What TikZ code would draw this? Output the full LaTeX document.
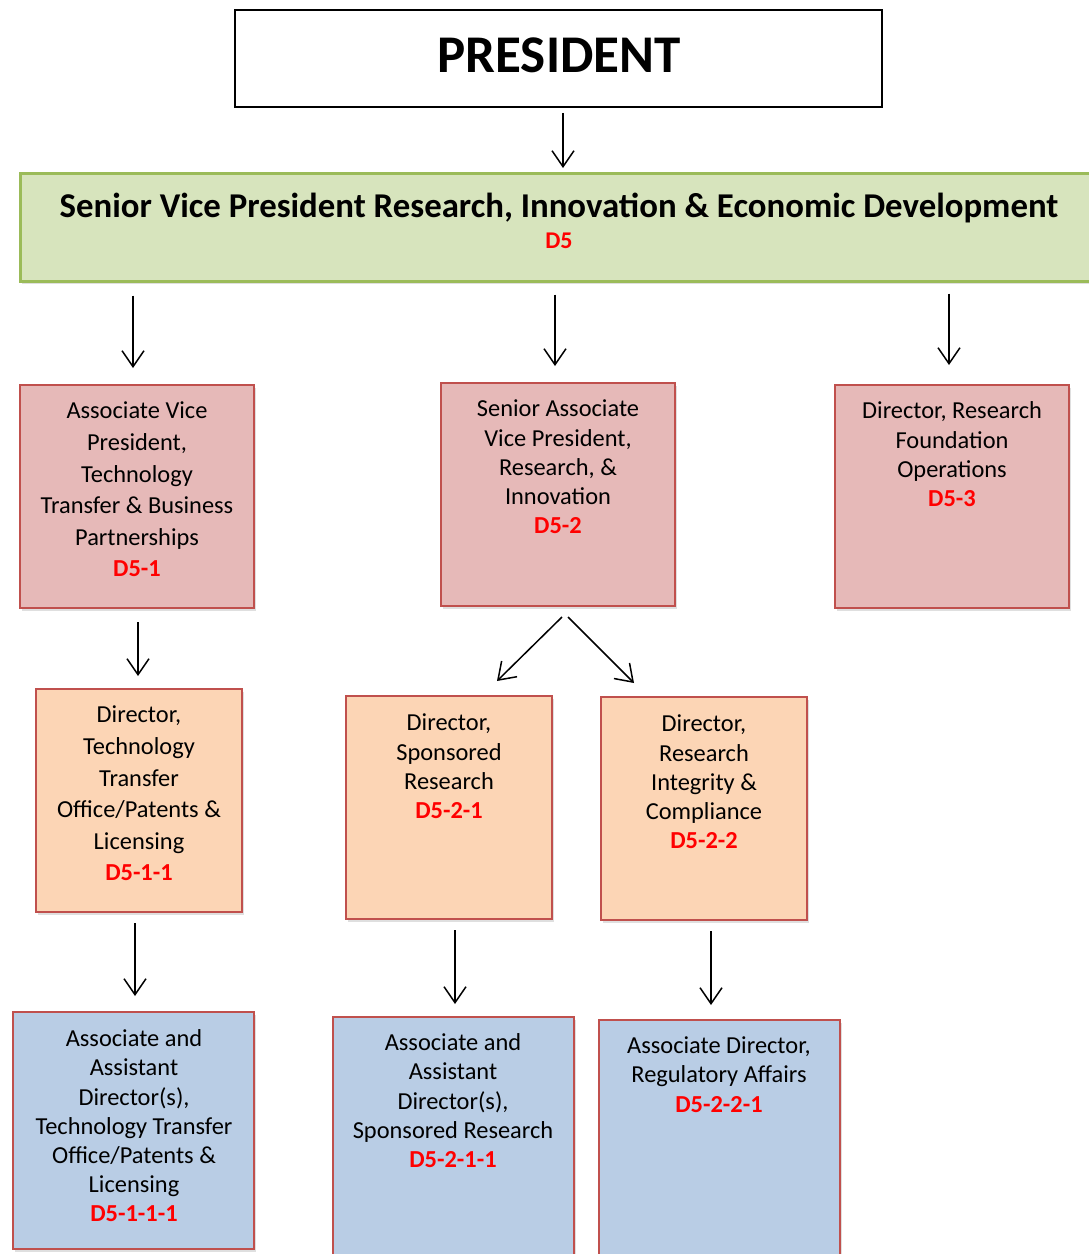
\documentclass[tikz,border=0pt]{standalone}
\usepackage{fontspec}
\setmainfont{Carlito}
\usetikzlibrary{arrows.meta,shadows}
\definecolor{gfill}{HTML}{D7E4BD}
\definecolor{gdraw}{HTML}{9BBB59}
\definecolor{pfill}{HTML}{E6B9B8}
\definecolor{rdraw}{HTML}{C0504D}
\definecolor{ofill}{HTML}{FCD5B5}
\definecolor{bfill}{HTML}{B9CDE5}
\definecolor{codered}{HTML}{FF0000}
\newcommand{\code}[1]{\textcolor{codered}{\bfseries #1}}
\begin{document}
\begin{tikzpicture}[x=1pt,y=-1pt,
  boxbase/.style={rectangle, line width=2pt, inner sep=0pt,
    drop shadow={opacity=0.25, shadow xshift=2pt, shadow yshift=-3pt}},
  pinkbox/.style={boxbase, draw=rdraw, fill=pfill},
  orangebox/.style={boxbase, draw=rdraw, fill=ofill},
  bluebox/.style={boxbase, draw=rdraw, fill=bfill},
  boxtext/.style={anchor=north, align=center, inner sep=0pt},
  arr/.style={line width=1.5pt, -{Straight Barb[length=16pt, width=22pt, line width=1.5pt]}}
]
\useasboundingbox (0,0) rectangle (1089,1254);

% President
\node[rectangle, draw=black, line width=1.8pt, fill=white, minimum width=647pt, minimum height=97pt, inner sep=0pt]
  (pres) at (558.5,58.5) {};
\node[inner sep=0pt, font=\fontsize{53}{60}\selectfont\bfseries] (prestext) at (559,55) {PRESIDENT};

% SVP
\node[boxbase, draw=gdraw, fill=gfill, line width=2.5pt, minimum width=1080pt, minimum height=108pt, anchor=north west]
  (svp) at (19,172) {};
\node[boxtext, font=\fontsize{34.8}{40}\selectfont\bfseries] (svptext) at (559,189)
  {\strut Senior Vice President Research, Innovation \& Economic Development};
\node[inner sep=0pt, font=\fontsize{24}{29}\selectfont] (svpcode) at (559,241) {\code{D5}};

% Level 2
\node[pinkbox, minimum width=234pt, minimum height=223pt] (b1) at (137,496.5) {};
\node[boxtext, font=\fontsize{24.4}{31.6}\selectfont] (t1) at (137,396.5)
  {\strut Associate Vice\\President,\\Technology\\Transfer \& Business\\Partnerships\\\code{D5-1}};

\node[pinkbox, minimum width=234pt, minimum height=223pt] (b2) at (558,494.5) {};
\node[boxtext, font=\fontsize{24.4}{29.3}\selectfont] (t2) at (558,396)
  {\strut Senior Associate\\Vice President,\\Research, \&\\Innovation\\\code{D5-2}};

\node[pinkbox, minimum width=234pt, minimum height=223pt] (b3) at (952,496.5) {};
\node[boxtext, font=\fontsize{24.4}{29.3}\selectfont] (t3) at (952,398)
  {\strut Director, Research\\Foundation\\Operations\\\code{D5-3}};

% Level 3
\node[orangebox, minimum width=206pt, minimum height=223pt] (b11) at (139,800.5) {};
\node[boxtext, font=\fontsize{24.4}{31.6}\selectfont] (t11) at (139,700.5)
  {\strut Director,\\Technology\\Transfer\\Office/Patents \&\\Licensing\\\code{D5-1-1}};

\node[orangebox, minimum width=206pt, minimum height=223pt] (b21) at (449,807.5) {};
\node[boxtext, font=\fontsize{24.4}{29.3}\selectfont] (t21) at (449,710)
  {\strut Director,\\Sponsored\\Research\\\code{D5-2-1}};

\node[orangebox, minimum width=206pt, minimum height=223pt] (b22) at (704,808.5) {};
\node[boxtext, font=\fontsize{24.4}{29.3}\selectfont] (t22) at (704,711)
  {\strut Director,\\Research\\Integrity \&\\Compliance\\\code{D5-2-2}};

% Level 4
\node[bluebox, minimum width=241pt, minimum height=237pt] (b111) at (133.5,1130.5) {};
\node[boxtext, font=\fontsize{24.4}{29.2}\selectfont] (t111) at (134,1026)
  {\strut Associate and\\Assistant\\Director(s),\\Technology Transfer\\Office/Patents \&\\Licensing\\\code{D5-1-1-1}};

\node[bluebox, minimum width=241pt, minimum height=250pt, anchor=north] (b211) at (453.5,1016) {};
\node[boxtext, font=\fontsize{24.4}{29.2}\selectfont] (t211) at (453,1030)
  {\strut Associate and\\Assistant\\Director(s),\\Sponsored Research\\\code{D5-2-1-1}};

\node[bluebox, minimum width=241pt, minimum height=250pt, anchor=north] (b221) at (719.5,1019) {};
\node[boxtext, font=\fontsize{24.4}{29.2}\selectfont] (t221) at (719,1033)
  {\strut Associate Director,\\Regulatory Affairs\\\code{D5-2-2-1}};

% Arrows (xshift/yshift are in page coordinates: positive yshift = up)
\draw[arr] ([yshift=-5pt]pres.south -| 563,0) -- ([yshift=4pt]svp.north -| 563,0);
\draw[arr] ([yshift=-13pt]svp.south -| 133,0) -- ([yshift=16pt]b1.north -| 133,0);
\draw[arr] ([yshift=-12pt]svp.south -| 555,0) -- ([yshift=16pt]b2.north -| 555,0);
\draw[arr] ([yshift=-11pt]svp.south -| 949,0) -- ([yshift=19pt]b3.north -| 949,0);
\draw[arr] ([yshift=-13pt]b1.south -| 138,0) -- ([yshift=12pt]b11.north -| 138,0);
\draw[arr] ([xshift=4pt,yshift=-10pt]b2.south) -- ([xshift=-56pt,yshift=14pt]b21.north east);
\draw[arr] ([xshift=10pt,yshift=-10pt]b2.south) -- ([xshift=34pt,yshift=13pt]b22.north west);
\draw[arr] ([yshift=-10pt]b11.south -| 135,0) -- ([yshift=15pt]b111.north -| 135,0);
\draw[arr] ([yshift=-10pt]b21.south -| 455,0) -- ([yshift=12pt]b211.north -| 455,0);
\draw[arr] ([yshift=-10pt]b22.south -| 711,0) -- ([yshift=14pt]b221.north -| 711,0);
\end{tikzpicture}
\end{document}
